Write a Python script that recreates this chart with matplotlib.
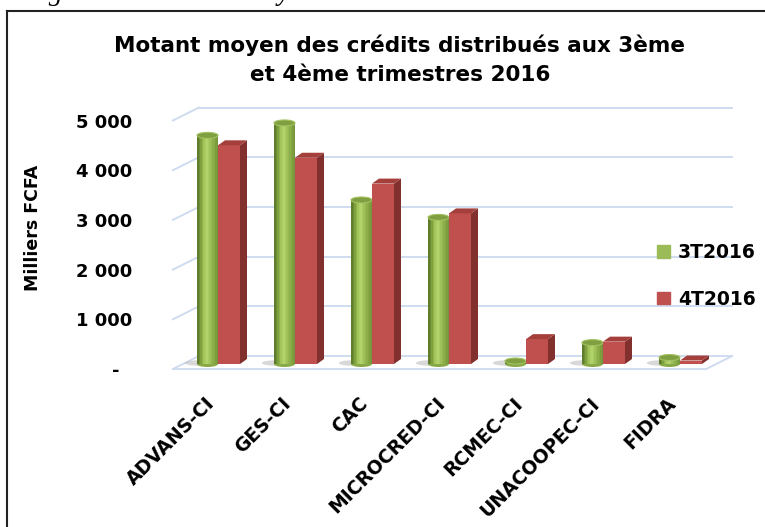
import matplotlib
matplotlib.use("Agg")
import matplotlib.pyplot as plt
import matplotlib.transforms as mtransforms
from matplotlib.patches import Polygon, Ellipse, Patch
from matplotlib.lines import Line2D
import numpy as np

plt.rcParams["font.family"] = ["DejaVu Sans"]

# data (milliers FCFA)
categories = ["ADVANS-CI", "GES-CI", "CAC", "MICROCRED-CI", "RCMEC-CI", "UNACOOPEC-CI", "FIDRA"]
t3_2016 = [4600, 4850, 3300, 2950, 60, 430, 130]
t4_2016 = [4400, 4150, 3630, 3030, 500, 450, 70]
series_names = ["3T2016", "4T2016"]
yticks = [0, 1000, 2000, 3000, 4000, 5000]
ytick_labels = ["-  ", "1 000", "2 000", "3 000", "4 000", "5 000"]

W, H = 765, 527
fig = plt.figure(figsize=(W / 100, H / 100), dpi=100)

# axes box in pixels (from top-left), scale: 1 category = 77 px, 1000 = 49.7 px
ax_l, ax_r, ax_t, ax_b = 150, 740, 95, 385
px_x = 77.0
px_y = 49.7 / 1000
ax = fig.add_axes([ax_l / W, 1 - ax_b / H, (ax_r - ax_l) / W, (ax_b - ax_t) / H])
ax.set_xlim((ax_l - 218) / px_x, (ax_r - 218) / px_x)
ax.set_ylim((364 - ax_b) / px_y, (364 - ax_t) / px_y)


def off(dx_px, dy_px):
    # pixel offset (dy downward) -> data offset
    return dx_px / px_x, -dy_px / px_y


green = "#9BBB59"
red = "#C0504D"
grid_c = "#CFDCF0"

# walls / floor of the 3D box
back = off(16, -8)
front = off(-10, 5)
x_left, x_right = -0.455, 6.47
for v in yticks:
    ax.plot([x_left + back[0], x_right + back[0]], [v + back[1]] * 2, color=grid_c, lw=1.4, zorder=1)
    ax.plot([x_left + front[0], x_left + back[0]], [v + front[1], v + back[1]], color=grid_c, lw=1.4, zorder=1)
ax.plot([x_left + front[0], x_right + front[0]], [front[1]] * 2, color=grid_c, lw=1.4, zorder=1)
ax.plot([x_right + front[0], x_right + back[0]], [front[1], back[1]], color=grid_c, lw=1.4, zorder=1)

# bars
gw, rw = 21 / px_x, 22 / px_x
bdx, bdy = off(7, -5)
ell_h = 6 / px_y
sh_dx, sh_dy = off(-9, -1)
grad = ["#5F7D2C", "#6E8E35", "#7FA03F", "#90B34A", "#A2C45A", "#AECF66", "#B2D26B",
        "#ABCB63", "#A0C15A", "#96B852", "#8DAF4A", "#85A744", "#7C9E3F", "#72933A"]
n = len(grad)

for i, (g, r) in enumerate(zip(t3_2016, t4_2016)):
    # soft floor shadow
    ax.add_patch(Ellipse((i - gw / 2 + sh_dx, sh_dy), gw * 1.3, ell_h * 0.9, color="#B8B8B8",
                         alpha=0.55, lw=0, zorder=2))
    # green cylinder
    x0 = i - gw
    ax.add_patch(Ellipse((i - gw / 2, 0), gw, ell_h, color="#88A948", zorder=2.9, lw=0))
    ax.bar(x0 + np.arange(n) * gw / n, [g] * n, width=gw / n * 1.05, align="edge",
           color=grad, linewidth=0, zorder=3)
    ax.add_patch(Ellipse((i - gw / 2, g), gw, ell_h, facecolor="#7F9F40",
                         edgecolor="#A3C262", lw=0.8, zorder=3.1))
    # red box
    ax.bar(i, r, width=rw, align="edge", color=red, linewidth=0, zorder=4)
    ax.add_patch(Polygon([(i + rw, 0), (i + rw, r), (i + rw + bdx, r + bdy), (i + rw + bdx, bdy)],
                         closed=True, facecolor="#82302E", lw=0, zorder=4))
    ax.add_patch(Polygon([(i, r), (i + rw, r), (i + rw + bdx, r + bdy), (i + bdx, r + bdy)],
                         closed=True, facecolor="#A53F3C", lw=0, zorder=4))

# axes styling
for s in ax.spines.values():
    s.set_visible(False)
ax.set_yticks(yticks, ytick_labels)
ax.tick_params(axis="y", length=0, pad=13, labelsize=13)
for lbl in ax.get_yticklabels():
    lbl.set_fontweight("bold")
    lbl.set_transform(lbl.get_transform() + mtransforms.ScaledTranslation(0, -0.05, fig.dpi_scale_trans))
ax.set_xticks(range(len(categories)), categories)
ax.tick_params(axis="x", length=0, pad=16, labelsize=13.5)
for lbl in ax.get_xticklabels():
    lbl.set_fontweight("bold")
    lbl.set_rotation(45)
    lbl.set_ha("right")
    lbl.set_va("bottom")
    lbl.set_rotation_mode("anchor")

# texts
fig.text(400 / W, 1 - 60 / H, "Motant moyen des crédits distribués aux 3ème\net 4ème trimestres 2016",
         ha="center", va="center", fontsize=15.5, fontweight="bold", linespacing=1.55)
fig.text(33 / W, 1 - 228 / H, "Milliers FCFA", rotation=90, ha="center", va="center",
         fontsize=12.5, fontweight="bold")
fig.text(24 / W, 1 - 0.5 / H, "Figure 8 : Montant moyen des crédits distribués", fontsize=20,
         style="italic", family="Liberation Serif", va="baseline")

handles = [Patch(color=green), Patch(color=red)]
fig.legend(handles, series_names, loc="center left", bbox_to_anchor=(640 / W, 1 - 276 / H),
           frameon=False, prop={"weight": "bold", "size": 13.5}, handlelength=0.68,
           handleheight=0.68, handletextpad=0.45, labelspacing=1.45)

# frame of the chart area
fig.add_artist(Line2D([7 / W, 7 / W], [0, 1 - 11 / H], transform=fig.transFigure, color="#222222", lw=1.5))
fig.add_artist(Line2D([7 / W, 1], [1 - 11 / H] * 2, transform=fig.transFigure, color="#222222", lw=1.5))

fig.savefig("out.png", dpi=100)
